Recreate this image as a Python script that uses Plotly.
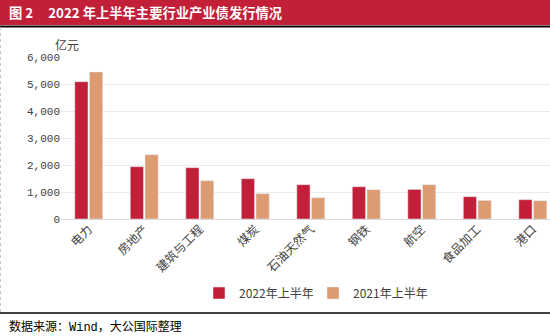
import plotly.graph_objects as go

categories = ["电力", "房地产", "建筑与工程", "煤炭", "石油天然气", "钢铁", "航空", "食品加工", "港口"]
h1_2022 = [5085, 1937, 1900, 1493, 1270, 1196, 1096, 826, 715]
h1_2021 = [5444, 2381, 1418, 937, 789, 1085, 1270, 690, 678]
series_names = ["2022年上半年", "2021年上半年"]
y_ticks = [0, 1000, 2000, 3000, 4000, 5000, 6000]

W, H = 550, 336
L, R, T, B = 61, 0, 57, 117
ph = H - T - B
pw = W - L - R

def px(x):
    return (x - L) / pw

def py(y):
    return (H - B - y) / ph

RED = "#C21F39"
TAN = "#DD9B72"

fig = go.Figure()
fig.add_bar(x=categories, y=h1_2022, name=series_names[0], marker_color=RED, legend="legend")
fig.add_bar(x=categories, y=h1_2021, name=series_names[1], marker_color=TAN, legend="legend2")

leg_common = dict(orientation="h", yanchor="middle", xanchor="left",
                  font=dict(size=12, color="#404040"), itemwidth=30,
                  bgcolor="rgba(0,0,0,0)")

fig.update_layout(
    width=W, height=H,
    margin=dict(l=L, r=R, t=T, b=B),
    paper_bgcolor="white", plot_bgcolor="white",
    barmode="group", bargap=0.47, bargroupgap=0.1,
    font=dict(family="Noto Sans CJK SC", color="#404040"),
    showlegend=True,
    legend=dict(x=px(199), y=py(293), **leg_common),
    legend2=dict(x=px(313), y=py(293), **leg_common),
    xaxis=dict(range=[-0.5, 8.31], tickangle=-45, tickfont=dict(size=12, color="#404040"),
               showgrid=False, showline=False, ticks=""),
    yaxis=dict(range=[0, 6000], tickvals=y_ticks, tickformat=",d",
               tickfont=dict(family="Liberation Mono", size=11, color="#404040"),
               gridcolor="#EBEBEB", gridwidth=1, zeroline=True, zerolinecolor="#D9D9D9",
               zerolinewidth=1, ticks="", showline=False),
    shapes=[
        dict(type="rect", xref="paper", yref="paper", x0=px(0), x1=px(W), y0=py(25), y1=py(0),
             fillcolor=RED, line=dict(width=0), layer="below"),
        dict(type="line", xref="paper", yref="paper", x0=px(0), x1=px(W), y0=py(26.5), y1=py(26.5),
             line=dict(color="black", width=2)),
        dict(type="line", xref="paper", yref="paper", x0=px(0), x1=px(W), y0=py(313), y1=py(313),
             line=dict(color="black", width=1.5)),
        dict(type="line", xref="paper", yref="paper", x0=px(0.5), x1=px(0.5), y0=py(27), y1=py(313),
             line=dict(color="#C8C8C8", width=1, dash="dot")),
    ],
    annotations=[
        dict(text="<b>图 2&nbsp;&nbsp;&nbsp;&nbsp;&nbsp;2022 年上半年主要行业产业债发行情况</b>", xref="paper", yref="paper",
             x=px(7), y=py(13), xanchor="left", yanchor="middle", showarrow=False,
             font=dict(size=13.3, color="white", family="Noto Sans CJK SC")),
        dict(text="亿元", xref="paper", yref="paper", x=px(53), y=py(44), xanchor="left",
             yanchor="middle", showarrow=False, font=dict(size=12, color="#404040")),
        dict(text="数据来源：<span style='font-family:Liberation Mono'>Wind</span>，大公国际整理",
             xref="paper", yref="paper", x=px(7), y=py(326), xanchor="left", yanchor="middle",
             showarrow=False, font=dict(size=12, color="black")),
    ],
)

fig.write_html("out.html")
